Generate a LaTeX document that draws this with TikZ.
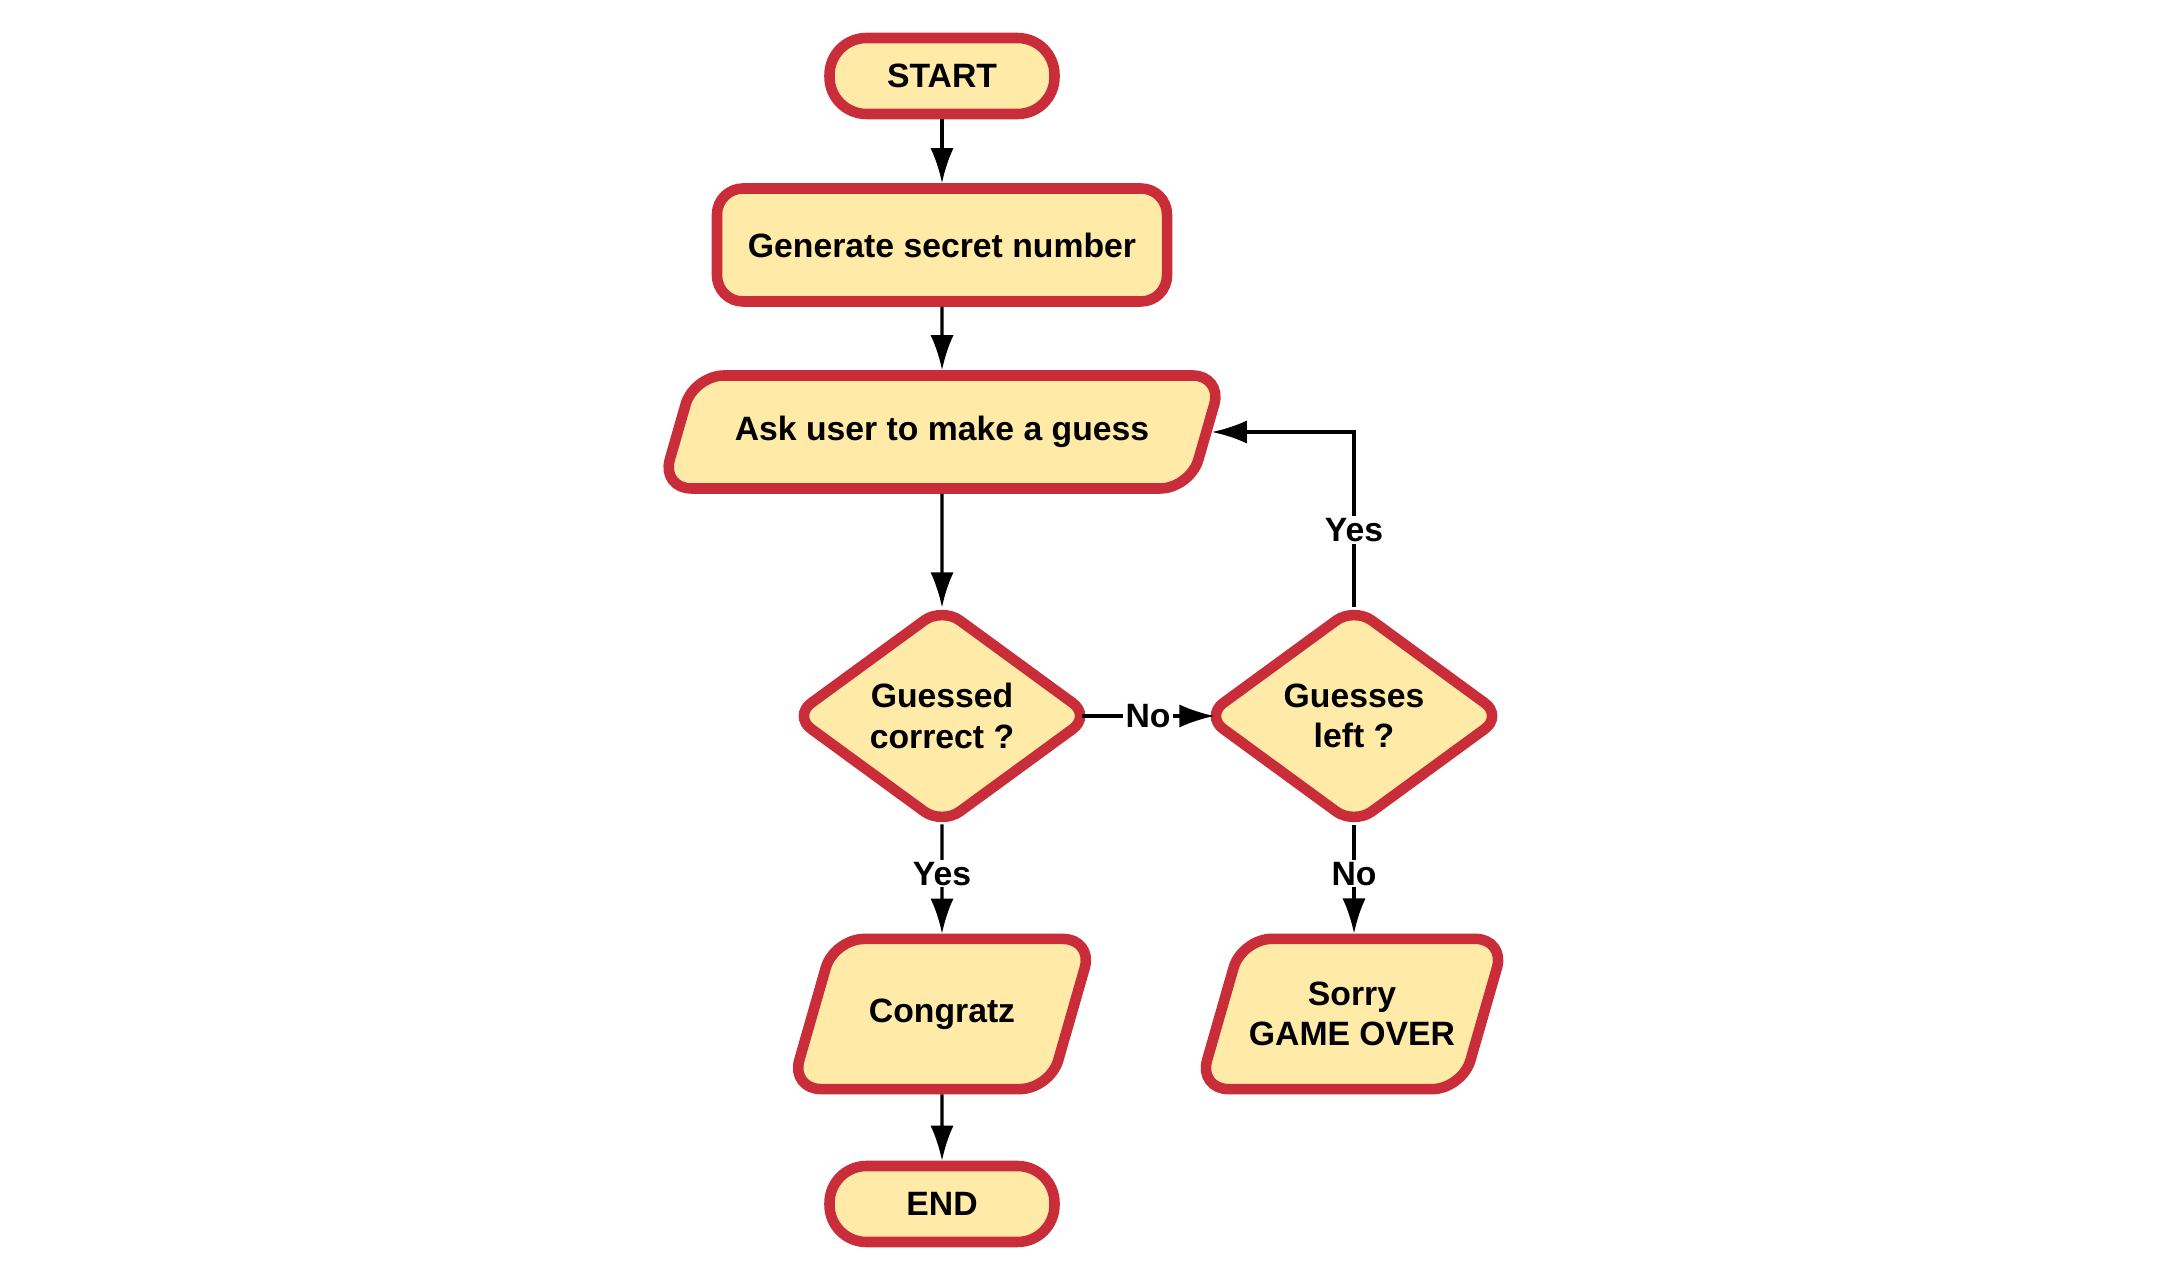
\documentclass[tikz,border=0pt]{standalone}
\usepackage{fontspec}
\setmainfont{Liberation Sans}
\usetikzlibrary{arrows.meta,shapes.geometric}

\definecolor{flowred}{HTML}{C92D39}
\definecolor{flowfill}{HTML}{FFEAA7}

\tikzset{
    box/.style={draw=flowred, fill=flowfill, line width=3pt, align=center,
        font=\fontsize{9.6}{11.5}\selectfont\bfseries, inner sep=2pt},
    terminal/.style={box, rectangle, rounded corners=0.37cm, minimum width=2.25cm, minimum height=0.76cm},
    process/.style={box, rectangle, rounded corners=0.26cm, minimum width=4.5cm, minimum height=1.13cm},
    io/.style={box, trapezium, trapezium left angle=74, trapezium right angle=106,
        trapezium stretches body, rounded corners=0.3cm},
    decision/.style={box, diamond, rounded corners=0.22cm, minimum width=2.97cm, minimum height=2.17cm,
        inner sep=0pt, outer sep=0pt},
    line/.style={line width=0.9pt, -{Latex[length=10pt,width=6.6pt]}},
    side/.style={shorten <=-0.09cm, shorten >=-0.09cm},
    lab/.style={fill=white, font=\fontsize{9.6}{11.5}\selectfont\bfseries, inner sep=0.6pt}
}

\begin{document}
\begin{tikzpicture}
    \useasboundingbox (0, 0) rectangle (21.66, 12.73);
    % nodes
    \node[terminal] (start) at (9.42, 11.97) {START};
    \node[process] (secret) at (9.42, 10.28) {Generate secret number};
    \node[io, minimum width=5.61cm, inner ysep=0.407cm] (ask) at (9.42, 8.41) {Ask user to make a guess};
    \node[decision] (correct) at (9.42, 5.57) {Guessed\\correct ?};
    \node[decision] (left) at (13.54, 5.57) {Guesses\\left ?};
    \node[io, minimum width=3.02cm, inner ysep=0.597cm] (congratz) at (9.42, 2.59) {Congratz};
    \node[io, minimum width=2.9cm, inner ysep=0.43cm] (sorry) at (13.52, 2.59) {Sorry\\GAME OVER};
    \node[terminal] (end) at (9.42, 0.69) {END};
    % connectors
    \draw[line] (start) -- (secret);
    \draw[line] (secret) -- (ask);
    \draw[line] (ask) -- (correct);
    \draw[line, side] (correct) -- node[lab] {No} (left);
    \draw[line] (correct) -- node[lab, pos=0.45] {Yes} (congratz);
    \draw[line] (left) -- node[lab, pos=0.45] {No} (sorry.north -| left);
    \draw[line] (left.north) |- node[lab, pos=0.22] {Yes} (ask.east);
    \draw[line] (congratz) -- (end);
\end{tikzpicture}
\end{document}
